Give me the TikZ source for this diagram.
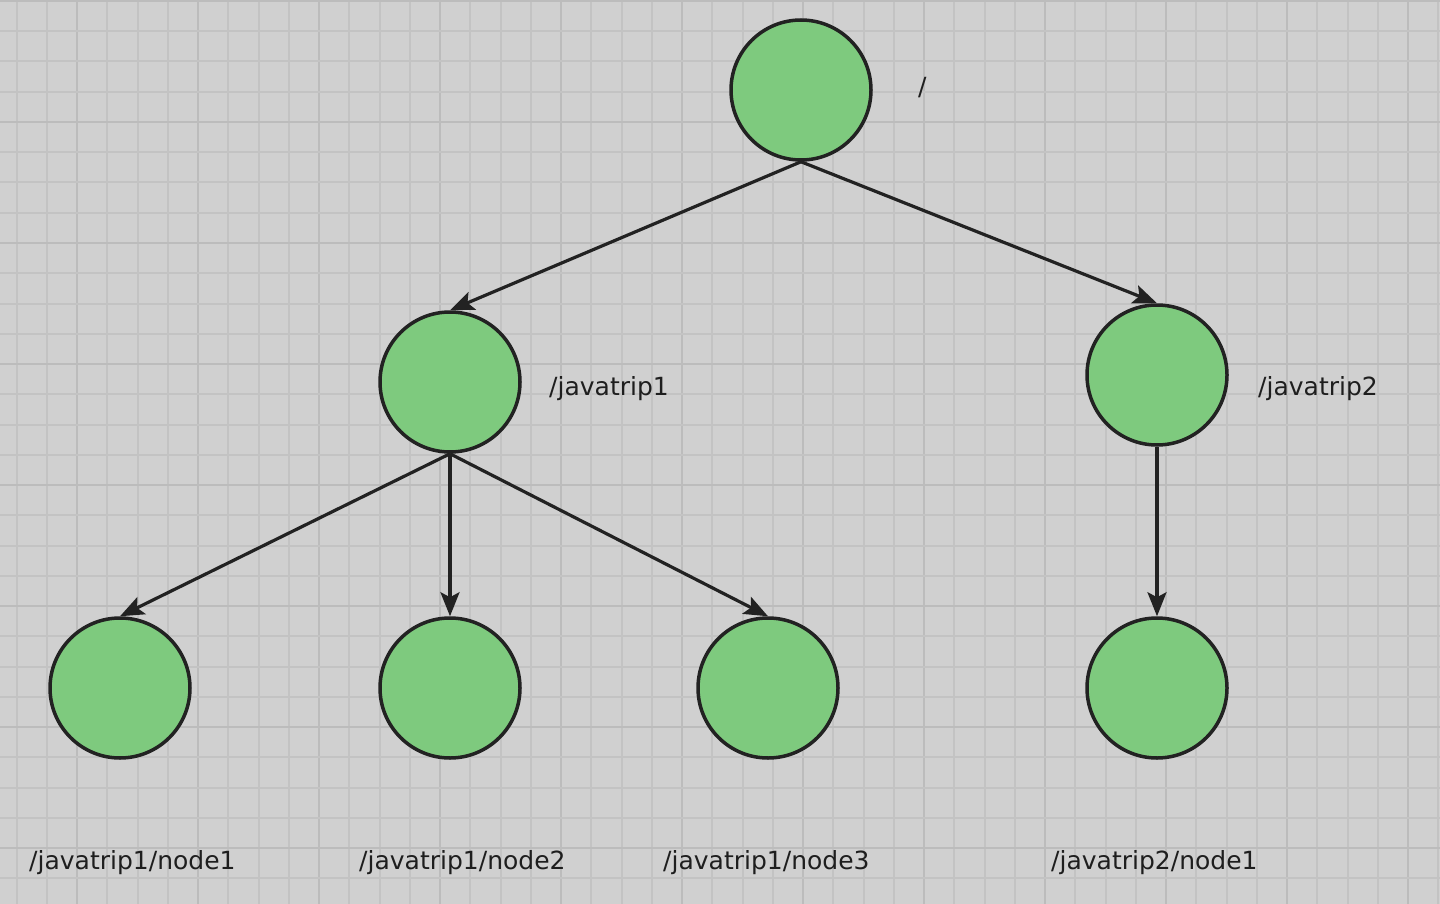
\documentclass[tikz,border=0pt]{standalone}
\usepackage{fontspec}
\setmainfont{DejaVu Sans}
\usetikzlibrary{arrows.meta}
\definecolor{bgc}{HTML}{D0D0D0}
\definecolor{minorc}{HTML}{C3C3C3}
\definecolor{majorc}{HTML}{BCBCBC}
\definecolor{fillc}{HTML}{7ECA7E}
\definecolor{linec}{HTML}{222222}
\definecolor{textc}{HTML}{1E1E1E}
\tikzset{
  zknode/.style={circle, draw=linec, fill=fillc, line width=3.5pt, minimum size=140pt, inner sep=0pt},
  lbl/.style={inner sep=0pt, anchor=base west, text=textc, font=\fontsize{25}{30}\selectfont},
  edge/.style={draw=linec, line width=3.2pt, -{Stealth[length=24pt,width=19pt,inset=5pt]}},
  minorl/.style={draw=minorc, line width=2pt},
  majorl/.style={draw=majorc, line width=2.2pt}
}
\begin{document}
\begin{tikzpicture}[x=1pt,y=-1pt]
\fill[bgc] (0,0) rectangle (1440,904);
\useasboundingbox (0,0) rectangle (1440,904);
\foreach \k in {0,...,47} {
  \pgfmathtruncatemacro{\m}{mod(\k+2,4)}
  \ifnum\m=0 \draw[majorl] ({16.5+30.25*\k},0) -- ({16.5+30.25*\k},904);
  \else \draw[minorl] ({16.5+30.25*\k},0) -- ({16.5+30.25*\k},904); \fi
}
\foreach \k in {0,...,29} {
  \pgfmathtruncatemacro{\m}{mod(\k,4)}
  \ifnum\m=0 \draw[majorl] (0,{1+30.25*\k}) -- (1440,{1+30.25*\k});
  \else \draw[minorl] (0,{1+30.25*\k}) -- (1440,{1+30.25*\k}); \fi
}
\node[zknode] (root) at (801,90) {};
\node[zknode] (j1) at (450,382) {};
\node[zknode] (j2) at (1157,375) {};
\node[zknode] (n1) at (120,688) {};
\node[zknode] (n2) at (450,688) {};
\node[zknode] (n3) at (768,688) {};
\node[zknode] (m1) at (1157,688) {};

\node[lbl] (lroot) at (918,96) {/};
\node[lbl] (lj1) at (549,395) {/javatrip1};
\node[lbl] (lj2) at (1258,395) {/javatrip2};
\node[lbl] (ln1) at (29,869) {/javatrip1/node1};
\node[lbl] (ln2) at (359,869) {/javatrip1/node2};
\node[lbl] (ln3) at (663,869) {/javatrip1/node3};
\node[lbl] (lm1) at (1051,869) {/javatrip2/node1};

\draw[edge] (root.south) -- (j1.north);
\draw[edge] (root.south) -- (j2.north);
\draw[edge] (j1.south) -- (n1.north);
\draw[edge] (j1.south) -- (n2.north);
\draw[edge] (j1.south) -- (n3.north);
\draw[edge] (j2.south) -- (m1.north);
\end{tikzpicture}
\end{document}
